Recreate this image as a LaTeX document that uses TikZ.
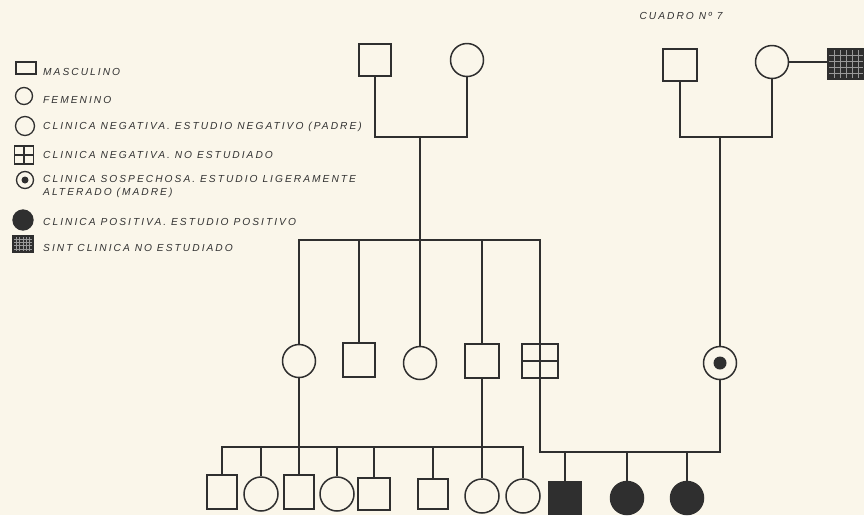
\documentclass[tikz,border=0pt]{standalone}
\usepackage{fontspec}
\newfontfamily\legendfont[LetterSpace=20]{Liberation Sans}
\usetikzlibrary{calc}
\definecolor{pInk}{HTML}{2F2F2F}
\definecolor{pText}{HTML}{333333}
\definecolor{pPaper}{HTML}{FAF6EA}
\definecolor{pGrid}{HTML}{9A9A9A}
\tikzset{
  male/.style={draw=pInk, line width=1.5pt, minimum width=32pt, minimum height=32pt, inner sep=0pt},
  female/.style={circle, draw=pInk, line width=1.5pt, minimum size=33pt, inner sep=0pt},
  affected/.style={fill=pInk},
  unstudied/.style={path picture={
      \draw[pInk, line width=1.2pt] (path picture bounding box.west) -- (path picture bounding box.east);
      \draw[pInk, line width=1.2pt] (path picture bounding box.north) -- (path picture bounding box.south);}},
  carrier/.style={path picture={\fill[pInk] (path picture bounding box.center) circle (6.5pt);}},
  symptom/.style={fill=pInk, path picture={
      \foreach \t in {0.2,0.4,0.6,0.8}{
        \draw[pGrid, line width=0.5pt] ($(path picture bounding box.south west)!\t!(path picture bounding box.north west)$) -- ++(60pt,0);}
      \foreach \t in {0.17,0.33,0.5,0.67,0.83}{
        \draw[pGrid, line width=0.5pt] ($(path picture bounding box.south west)!\t!(path picture bounding box.south east)$) -- ++(0,60pt);}}},
  link/.style={draw=pInk, line width=1.6pt},
  keytext/.style={anchor=west, inner sep=0pt, text=pText, align=left,
    font=\legendfont\itshape\fontsize{10.2}{13}\selectfont},
}

\begin{document}
\begin{tikzpicture}[x=1pt, y=-1pt,
    keymale/.style={male, line width=1.3pt, minimum width=20pt, minimum height=12pt},
    keyfemale/.style={female, line width=1.3pt, minimum size=17pt}]
  \fill[pPaper] (0,0) rectangle (864,515);
  \useasboundingbox (0,0) rectangle (864,515);

  % legend
  \node[keymale] (k1) at (26,68) {};
  \node[keytext] (t1) at (43,72) {MASCULINO};
  \node[keyfemale] (k2) at (24,96) {};
  \node[keytext] (t2) at (43,100) {FEMENINO};
  \node[keyfemale, minimum size=19pt] (k3) at (25,126) {};
  \node[keytext] (t3) at (43,127) {CLINICA NEGATIVA. ESTUDIO NEGATIVO (PADRE)};
  \node[keymale, unstudied, minimum width=19pt, minimum height=18pt] (k4) at (24,155) {};
  \node[keytext] (t4) at (43,155) {CLINICA NEGATIVA. NO ESTUDIADO};
  \node[keyfemale, path picture={\fill[pInk] (path picture bounding box.center) circle (3.5pt);}] (k5) at (25,180) {};
  \node[keytext] (t5) at (43,186) {CLINICA SOSPECHOSA. ESTUDIO LIGERAMENTE\\ALTERADO (MADRE)};
  \node[keyfemale, affected, minimum size=20pt] (k6) at (23,220) {};
  \node[keytext] (t6) at (43,222) {CLINICA POSITIVA. ESTUDIO POSITIVO};
  \node[keymale, symptom, minimum width=20pt, minimum height=16pt] (k7) at (23,244) {};
  \node[keytext] (t7) at (43,248) {SINT CLINICA NO ESTUDIADO};

  \node[keytext, anchor=center] (title) at (681,16) {CUADRO Nº 7};

  % first generation
  \node[male] (gf) at (375,60) {};
  \node[female] (gm) at (467,60) {};
  \node[male, minimum width=34pt] (rgf) at (680,65) {};
  \node[female] (rgm) at (772,62) {};
  \node[male, symptom, minimum width=36pt, minimum height=30pt] (rx) at (846,64) {};

  % second generation
  \node[female] (a1) at (299,361) {};
  \node[male, minimum height=34pt] (a2) at (359,360) {};
  \node[female] (a3) at (420,363) {};
  \node[male, minimum width=34pt, minimum height=34pt] (a4) at (482,361) {};
  \node[male, unstudied, minimum width=36pt, minimum height=34pt] (a5) at (540,361) {};
  \node[female, carrier] (m) at (720,363) {};

  % third generation
  \node[male, minimum width=30pt, minimum height=34pt] (b1) at (222,492) {};
  \node[female, minimum size=34pt] (b2) at (261,494) {};
  \node[male, minimum width=30pt, minimum height=34pt] (b3) at (299,492) {};
  \node[female, minimum size=34pt] (b4) at (337,494) {};
  \node[male] (b5) at (374,494) {};
  \node[male, minimum width=30pt, minimum height=30pt] (b6) at (433,494) {};
  \node[female, minimum size=34pt] (b7) at (482,496) {};
  \node[female, minimum size=34pt] (b8) at (523,496) {};
  \node[male, affected] (c1) at (565,498) {};
  \node[female, affected] (c2) at (627,498) {};
  \node[female, affected] (c3) at (687,498) {};

  % couples and sibships
  \coordinate (lc) at (420,137);
  \coordinate (rc) at (720,137);
  \coordinate (sib1) at (420,240);
  \coordinate (sib2) at (299,447);
  \coordinate (sib3) at (720,452);

  \draw[link] (gf.south) |- (lc) -| (gm.south);
  \draw[link] (lc) -- (a3.north);
  \draw[link] (rgf.south) |- (rc) -| (rgm.south);
  \draw[link] (rgm.east) -- (rgm.east -| rx.west);
  \draw[link] (rc) -- (m.north);

  \draw[link] (a1.north) |- (sib1) -| (a5.north);
  \foreach \n in {a2,a4}
    \draw[link] (\n.north) -- (\n.north |- sib1);

  \draw[link] (a1.south) -- (b3.north);
  \draw[link] (a4.south) -- (b7.north);
  \draw[link] (b1.north) |- (b8.north |- sib2) -- (b8.north);
  \foreach \n in {b2,b4,b5,b6}
    \draw[link] (\n.north) -- (\n.north |- sib2);

  \draw[link] (a5.south) |- (sib3) -- (m.south);
  \foreach \n in {c1,c2,c3}
    \draw[link] (\n.north) -- (\n.north |- sib3);
\end{tikzpicture}
\end{document}
